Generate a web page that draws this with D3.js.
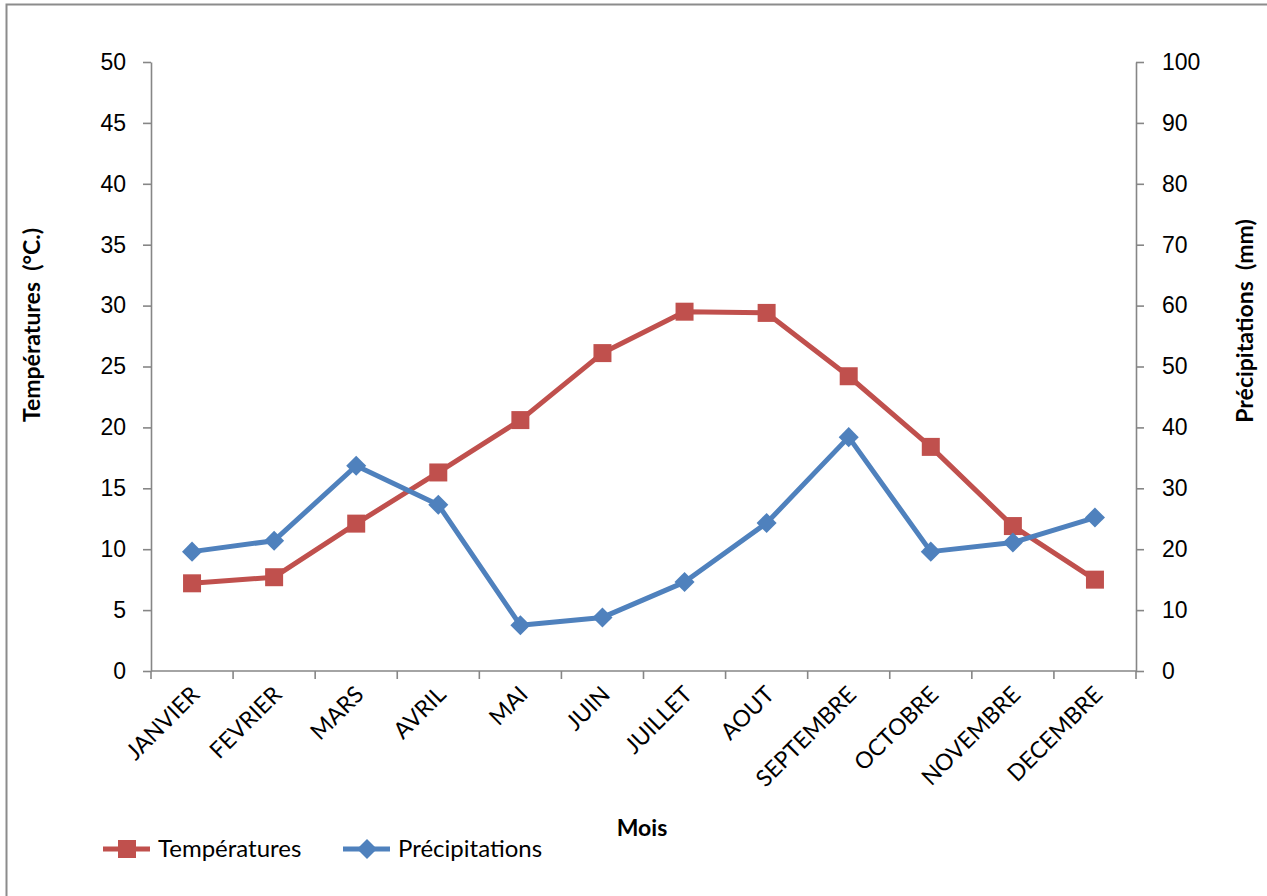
<!DOCTYPE html>
<html>
<head>
<meta charset="utf-8">
<script src="https://cdn.jsdelivr.net/npm/d3@7"></script>
<style>
  html, body { margin: 0; padding: 0; background: #fff; }
  svg { display: block; font-family: Lato, "Open Sans", sans-serif; }
  .axis path, .axis line { stroke: #868686; stroke-width: 1.6px; }
  .axis text { fill: #000; font-size: 23px; }
  .title { white-space: pre; font-weight: bold; font-size: 23px; }
</style>
</head>
<body>
<svg id="chart" width="1267" height="896"></svg>
<script>
// Monthly climate data
const months = ["JANVIER", "FEVRIER", "MARS", "AVRIL", "MAI", "JUIN", "JUILLET", "AOUT", "SEPTEMBRE", "OCTOBRE", "NOVEMBRE", "DECEMBRE"];
const temperatures = [7.2, 7.7, 12.1, 16.3, 20.6, 26.1, 29.5, 29.4, 24.2, 18.4, 11.9, 7.5];
const precipitations = [19.6, 21.4, 33.7, 27.3, 7.5, 8.8, 14.6, 24.3, 38.4, 19.6, 21.1, 25.2];
const tempTicks = [0, 5, 10, 15, 20, 25, 30, 35, 40, 45, 50];
const precipTicks = [0, 10, 20, 30, 40, 50, 60, 70, 80, 90, 100];

const RED = "#C0504D", BLUE = "#4F81BD";
const svg = d3.select("#chart");

// chart frame
svg.append("rect")
  .attr("x", 6.5).attr("y", 4.5).attr("width", 1300).attr("height", 920)
  .attr("fill", "#fff").attr("stroke", "#8c8c8c").attr("stroke-width", 2);

const plotLeft = 151, plotRight = 1136, plotTop = 62, plotBottom = 671;

const x = d3.scaleBand().domain(months).range([plotLeft, plotRight]);
const yT = d3.scaleLinear().domain([0, 50]).range([plotBottom, plotTop]);
const yP = d3.scaleLinear().domain([0, 100]).range([plotBottom, plotTop]);

// left axis (temperatures)
svg.append("g").attr("class", "axis")
  .attr("transform", `translate(${plotLeft},0)`)
  .call(d3.axisLeft(yT).tickValues(tempTicks).tickSize(8).tickPadding(17).tickSizeOuter(0));

// right axis (precipitation)
svg.append("g").attr("class", "axis")
  .attr("transform", `translate(${plotRight},0)`)
  .call(d3.axisRight(yP).tickValues(precipTicks).tickSize(8).tickPadding(18).tickSizeOuter(0));

// category axis: ticks at band boundaries
const xAxis = svg.append("g").attr("class", "axis")
  .attr("transform", `translate(0,${plotBottom})`);
xAxis.append("line")
  .attr("x1", plotLeft).attr("x2", plotRight).attr("y1", 0).attr("y2", 0);
const bounds = months.map(m => x(m)).concat([x.range()[1]]);
xAxis.selectAll("line.tick").data(bounds).join("line")
  .attr("class", "tick")
  .attr("x1", d => d).attr("x2", d => d).attr("y1", 0).attr("y2", 8);
xAxis.selectAll("text").data(months).join("text")
  .attr("text-anchor", "end")
  .attr("transform", d => `translate(${x(d) + x.bandwidth() / 2 + 9},${25}) rotate(-45)`)
  .text(d => d);

// axis titles
svg.append("text").attr("class", "title")
  .attr("transform", `translate(40,325) rotate(-90)`)
  .attr("text-anchor", "middle")
  .text("Températures  (°C.)");
svg.append("text").attr("class", "title")
  .attr("transform", `translate(1253,321) rotate(-90)`)
  .attr("text-anchor", "middle")
  .text("Précipitations  (mm)");
svg.append("text").attr("class", "title")
  .attr("x", 642).attr("y", 836)
  .attr("text-anchor", "middle")
  .text("Mois");

// series
const cx = (d, i) => x(months[i]) + x.bandwidth() / 2;
const lineT = d3.line().x(cx).y(d => yT(d));
const lineP = d3.line().x(cx).y(d => yP(d));

svg.append("path").datum(temperatures)
  .attr("d", lineT).attr("fill", "none").attr("stroke", RED)
  .attr("stroke-width", 5).attr("stroke-linejoin", "round");
svg.append("path").datum(precipitations)
  .attr("d", lineP).attr("fill", "none").attr("stroke", BLUE)
  .attr("stroke-width", 5).attr("stroke-linejoin", "round");

const sq = d3.symbol().type(d3.symbolSquare).size(18 * 18);
const dm = d3.symbol().type(d3.symbolDiamond2).size(16 * 16);

svg.selectAll("path.mt").data(temperatures).join("path")
  .attr("class", "mt")
  .attr("transform", (d, i) => `translate(${cx(d, i)},${yT(d)})`)
  .attr("d", sq()).attr("fill", RED);
svg.selectAll("path.mp").data(precipitations).join("path")
  .attr("class", "mp")
  .attr("transform", (d, i) => `translate(${cx(d, i)},${yP(d)})`)
  .attr("d", dm()).attr("fill", BLUE);

// legend
const legend = [
  { name: "Températures", color: RED, sym: sq, x: 103 },
  { name: "Précipitations", color: BLUE, sym: dm, x: 343 }
];
const lg = svg.selectAll("g.lg").data(legend).join("g")
  .attr("class", "lg")
  .attr("transform", d => `translate(${d.x},849)`);
lg.append("line").attr("x1", 0).attr("x2", 47).attr("y1", 0).attr("y2", 0)
  .attr("stroke", d => d.color).attr("stroke-width", 5);
lg.append("path").attr("transform", "translate(24,0)")
  .attr("d", d => d.sym()).attr("fill", d => d.color);
lg.append("text").attr("x", 55).attr("y", 8).attr("font-size", 24)
  .text(d => d.name);
</script>
</body>
</html>
